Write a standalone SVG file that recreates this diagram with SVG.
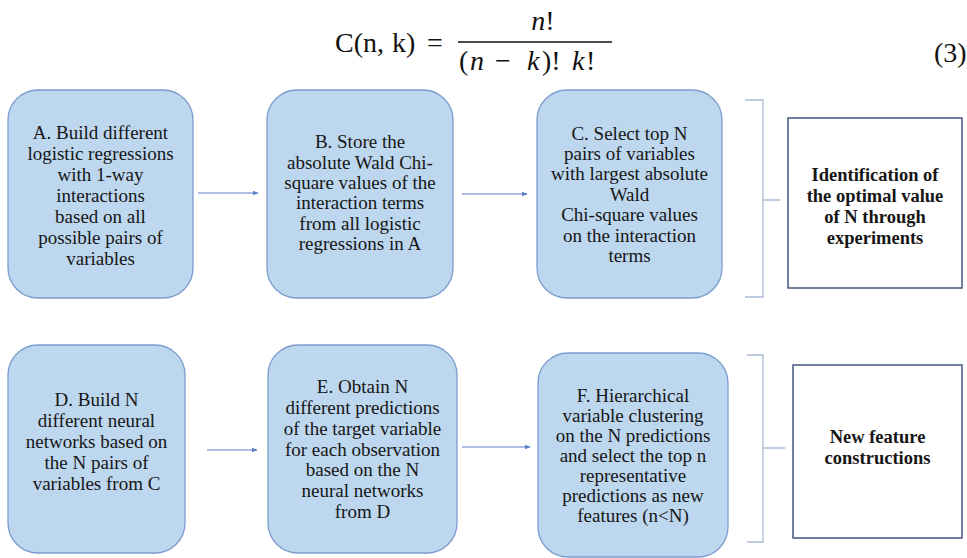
<svg xmlns="http://www.w3.org/2000/svg" width="967" height="558" viewBox="0 0 967 558">
<style>
.bg{fill:#ffffff}
.step{fill:#bdd7ee;stroke:#7d9cce;stroke-width:1.3}
.out{fill:#ffffff;stroke:#44557f;stroke-width:1.5}
.t{font-family:'Liberation Serif','Tinos','DejaVu Serif',serif;font-size:19px;fill:#161616;text-anchor:middle}
.b{font-family:'Liberation Serif','Tinos','DejaVu Serif',serif;font-size:18.5px;font-weight:bold;fill:#161616;text-anchor:middle}
.eq{font-family:'Liberation Serif','Tinos','DejaVu Serif',serif;font-size:28px;fill:#111}
.it{font-style:italic}
.conn{stroke:#5a7fc8;stroke-width:1.2;fill:none}
.brk{stroke:#a9b9d6;stroke-width:1.3;fill:none}
</style>
<defs>
<marker id="ah" viewBox="0 0 10 10" refX="9" refY="5" markerWidth="6" markerHeight="6" orient="auto" markerUnits="userSpaceOnUse">
<path d="M0,1 L10,5 L0,9 z" fill="#5a7fc8"/>
</marker>
</defs>
<rect class="bg" x="0" y="0" width="967" height="558"/>

<g id="formula">
<text class="eq" y="52"><tspan x="335">C(n,</tspan><tspan x="392">k)</tspan><tspan x="427">=</tspan></text>
<text class="eq" x="543" y="30" text-anchor="middle"><tspan class="it">n</tspan>!</text>
<line x1="458" y1="42" x2="612" y2="42" stroke="#111" stroke-width="1.5"/>
<text class="eq" y="70"><tspan x="459">(</tspan><tspan class="it" x="470">n</tspan><tspan x="495">−</tspan><tspan class="it" x="527">k</tspan><tspan x="542">)!</tspan><tspan class="it" x="572">k</tspan><tspan x="586">!</tspan></text>
<text class="eq" x="934" y="62" font-size="22">(3)</text>
</g>

<g id="connectors">
<line class="conn" x1="198" y1="193" x2="258" y2="193" marker-end="url(#ah)"/>
<line class="conn" x1="462" y1="194" x2="527" y2="194" marker-end="url(#ah)"/>
<line class="conn" x1="207" y1="450" x2="257" y2="450" marker-end="url(#ah)"/>
<line class="conn" x1="462" y1="447" x2="530" y2="447" marker-end="url(#ah)"/>
<path class="brk" d="M745,100 H763 V297 H745 M763,200 H780"/>
<path class="brk" d="M747,355 H763 V542 H747 M763,448 H785"/>
</g>

<g id="nodeA">
<rect class="step" x="8" y="90" width="185" height="208" rx="30"/>
<text class="t" x="100.5" y="139">A. Build different</text>
<text class="t" x="100.5" y="160">logistic regressions</text>
<text class="t" x="100.5" y="181">with 1-way</text>
<text class="t" x="100.5" y="202">interactions</text>
<text class="t" x="100.5" y="223">based on all</text>
<text class="t" x="100.5" y="244">possible pairs of</text>
<text class="t" x="100.5" y="265">variables</text>
</g>

<g id="nodeB">
<rect class="step" x="267" y="90" width="186" height="208" rx="30"/>
<text class="t" x="360" y="148">B. Store the</text>
<text class="t" x="360" y="169">absolute Wald Chi-</text>
<text class="t" x="360" y="189">square values of the</text>
<text class="t" x="360" y="209">interaction terms</text>
<text class="t" x="360" y="230">from all logistic</text>
<text class="t" x="360" y="250">regressions in A</text>
</g>

<g id="nodeC">
<rect class="step" x="537" y="90" width="185" height="208" rx="30"/>
<text class="t" x="629.5" y="140">C. Select top N</text>
<text class="t" x="629.5" y="160">pairs of variables</text>
<text class="t" x="629.5" y="180">with largest absolute</text>
<text class="t" x="629.5" y="201">Wald</text>
<text class="t" x="629.5" y="221">Chi-square values</text>
<text class="t" x="629.5" y="242">on the interaction</text>
<text class="t" x="629.5" y="262">terms</text>
</g>

<g id="nodeOptimal">
<rect class="out" x="788" y="118" width="174" height="170"/>
<text class="b" x="875" y="181">Identification of</text>
<text class="b" x="875" y="202">the optimal value</text>
<text class="b" x="875" y="223">of N through</text>
<text class="b" x="875" y="244">experiments</text>
</g>

<g id="nodeD">
<rect class="step" x="8" y="345" width="177" height="208" rx="30"/>
<text class="t" x="96.5" y="406">D. Build N</text>
<text class="t" x="96.5" y="427">different neural</text>
<text class="t" x="96.5" y="448">networks based on</text>
<text class="t" x="96.5" y="469">the N pairs of</text>
<text class="t" x="96.5" y="490">variables from C</text>
</g>

<g id="nodeE">
<rect class="step" x="268" y="345" width="189" height="208" rx="30"/>
<text class="t" x="362.5" y="393">E. Obtain N</text>
<text class="t" x="362.5" y="414">different predictions</text>
<text class="t" x="362.5" y="435">of the target variable</text>
<text class="t" x="362.5" y="456">for each observation</text>
<text class="t" x="362.5" y="476">based on the N</text>
<text class="t" x="362.5" y="497">neural networks</text>
<text class="t" x="362.5" y="518">from D</text>
</g>

<g id="nodeF">
<rect class="step" x="538" y="353" width="190" height="204" rx="30"/>
<text class="t" x="633" y="402">F. Hierarchical</text>
<text class="t" x="633" y="422">variable clustering</text>
<text class="t" x="633" y="442">on the N predictions</text>
<text class="t" x="633" y="462">and select the top n</text>
<text class="t" x="633" y="482">representative</text>
<text class="t" x="633" y="502">predictions as new</text>
<text class="t" x="633" y="522">features (n&lt;N)</text>
</g>

<g id="nodeNew">
<rect class="out" x="793" y="365" width="169" height="173"/>
<text class="b" x="877.5" y="443">New feature</text>
<text class="b" x="877.5" y="464">constructions</text>
</g>
</svg>
